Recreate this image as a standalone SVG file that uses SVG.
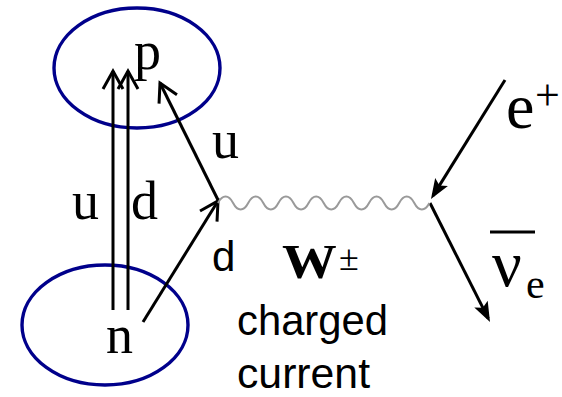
<svg xmlns="http://www.w3.org/2000/svg" width="562" height="397" viewBox="0 0 562 397">
<style>
.serif{font-family:"Liberation Serif","Times New Roman",serif;fill:#000}
.sans{font-family:"Liberation Sans",Arial,sans-serif;fill:#000}
.ell{fill:none;stroke:#00008b;stroke-width:3.4}
.ln{fill:none;stroke:#000;stroke-width:3}
</style>
<defs>
<marker id="open" viewBox="-24 -14 30 28" refX="0" refY="0" markerWidth="30" markerHeight="28" markerUnits="userSpaceOnUse" orient="auto">
<path d="M-18,-10 L0,0 L-18,10" fill="none" stroke="#000" stroke-width="3"/>
</marker>
<marker id="solid" viewBox="-20 -10 26 20" refX="0" refY="0" markerWidth="26" markerHeight="20" markerUnits="userSpaceOnUse" orient="auto">
<path d="M4,0 L-16,-7.5 L-12,0 L-16,7.5 Z" fill="#000"/>
</marker>
</defs>
<g id="proton">
<ellipse class="ell" cx="137" cy="68" rx="83" ry="60"/>
<text class="serif" x="134" y="69" font-size="54">p</text>
</g>
<g id="neutron">
<ellipse class="ell" cx="105" cy="325" rx="83" ry="60"/>
<text class="serif" x="106" y="353" font-size="54">n</text>
</g>
<g id="connectors">
<line class="ln" x1="113" y1="310" x2="113" y2="71" marker-end="url(#open)"/>
<line class="ln" x1="128" y1="310" x2="128" y2="71" marker-end="url(#open)"/>
<line class="ln" x1="218" y1="200" x2="160" y2="83" marker-end="url(#open)"/>
<line class="ln" x1="143" y1="322" x2="218" y2="201" marker-end="url(#open)"/>
<line class="ln" x1="505" y1="80" x2="433.1" y2="195.6" marker-end="url(#solid)"/>
<line class="ln" x1="430" y1="203" x2="488.2" y2="318.4" marker-end="url(#solid)"/>
<path id="wboson" d="M218,203 c4.5,-8.7 10.6,-8.7 15.1,0 c4.5,8.7 10.6,8.7 15.1,0 c4.5,-8.7 10.6,-8.7 15.1,0 c4.5,8.7 10.6,8.7 15.1,0 c4.5,-8.7 10.6,-8.7 15.1,0 c4.5,8.7 10.6,8.7 15.1,0 c4.5,-8.7 10.6,-8.7 15.1,0 c4.5,8.7 10.6,8.7 15.1,0 c4.5,-8.7 10.6,-8.7 15.1,0 c4.5,8.7 10.6,8.7 15.1,0 c4.5,-8.7 10.6,-8.7 15.1,0 c4.5,8.7 10.6,8.7 15.1,0 c4.5,-8.7 10.6,-8.7 15.1,0 c4.5,8.7 10.6,8.7 15.1,0" fill="none" stroke="#9a9a9a" stroke-width="2"/>
</g>
<g id="labels">
<text class="serif" x="72" y="219" font-size="54">u</text>
<text class="serif" x="131" y="219" font-size="54">d</text>
<text class="serif" x="212" y="158" font-size="54">u</text>
<text class="sans" x="212" y="271" font-size="42">d</text>
<text class="serif" x="282" y="278" font-size="48" font-weight="bold" transform="translate(282,0) scale(1.14,1) translate(-282,0)">W</text>
<text class="serif" x="339" y="270" font-size="36">±</text>
<text class="sans" x="237" y="335" font-size="42" textLength="151" lengthAdjust="spacingAndGlyphs">charged</text>
<text class="sans" x="237" y="388" font-size="42" textLength="133" lengthAdjust="spacingAndGlyphs">current</text>
</g>
<g id="positron">
<text class="serif" x="506" y="128" font-size="64">e</text>
<text class="serif" x="535" y="110" font-size="44">+</text>
</g>
<g id="antineutrino">
<line x1="490" y1="232" x2="535" y2="232" stroke="#000" stroke-width="3"/>
<text class="serif" x="492" y="286" font-size="66">ν</text>
<text class="serif" x="526" y="298" font-size="42">e</text>
</g>
</svg>
